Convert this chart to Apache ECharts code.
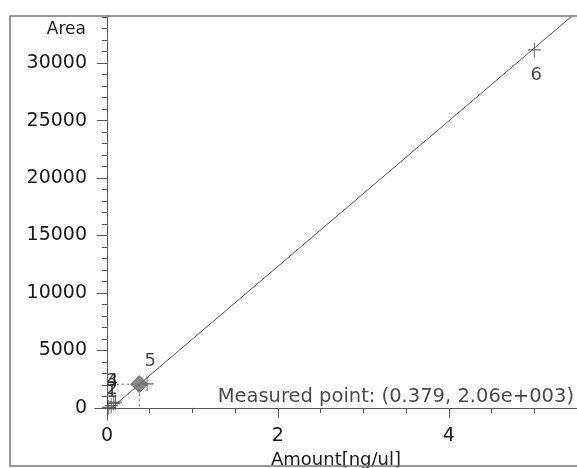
<!DOCTYPE html>
<html>
<head>
<meta charset="utf-8">
<script src="https://cdn.jsdelivr.net/npm/echarts@6/dist/echarts.min.js"></script>
<style>
html,body{margin:0;padding:0;background:#fff;}
#chart{width:577px;height:468px;}
</style>
</head>
<body>
<div id="chart"></div>
<script>
// ---- data ----
const amounts = [0.02, 0.05, 0.08, 0.1, 0.47, 5.0];
const areas = [50, 200, 400, 500, 2100, 31150];
const pointNames = ['1', '2', '3', '4', '5', '6'];
const measuredPoint = [0.379, 2060];
const fitLineX = [0.03, 5.5];
const fitLineY = [-150, 34470];
const xMajorTicks = [0, 2, 4];
const xMinorTicks = [0.5, 1, 1.5, 2.5, 3, 3.5, 4.5, 5, 5.5];
const yMajorTicks = [0, 5000, 10000, 15000, 20000, 25000, 30000];
const yMinorTicks = [1000,2000,3000,4000,6000,7000,8000,9000,11000,12000,13000,14000,16000,17000,18000,19000,21000,22000,23000,24000,26000,27000,28000,29000,31000,32000,33000,34000];
const measuredText = 'Measured point: (0.379, 2.06e+003)';

// ---- chart ----
const FONT = 'DejaVu Sans';
const TXT = '#1a1a1a';
const AX = '#5a5a5a';
const labelOffsets = [[3,-15],[1,-16],[-2,-22],[-3,-21],[3,-22],[2,25]];

const X_MIN = -0.14, X_MAX = 5.5, Y_MIN = -1050, Y_MAX = 34100;

const chart = echarts.init(document.getElementById('chart'), null, {renderer: 'canvas'});
const baseX = {type: 'value', min: X_MIN, max: X_MAX, position: 'bottom', splitLine: {show: false},
  axisLine: {onZero: true, lineStyle: {color: AX, width: 1}}};
const baseY = {type: 'value', min: Y_MIN, max: Y_MAX, position: 'left', splitLine: {show: false},
  axisLine: {onZero: true, lineStyle: {color: AX, width: 1}}};

const option = {
  animation: false,
  backgroundColor: '#fff',
  grid: {left: 95, right: 0, top: 16, bottom: 48, containLabel: false, outerBoundsMode: 'none'},
  xAxis: [
    Object.assign({}, baseX, {
      axisTick: {show: true, length: 10, customValues: xMajorTicks, lineStyle: {color: AX}},
      axisLabel: {show: true, customValues: xMajorTicks, margin: 7, color: TXT, fontSize: 19, fontFamily: FONT},
      name: 'Amount[ng/ul]', nameLocation: 'middle', nameGap: 28,
      nameTextStyle: {color: TXT, fontSize: 18, fontFamily: FONT}
    }),
    Object.assign({}, baseX, {
      axisTick: {show: true, length: 5, customValues: xMinorTicks, lineStyle: {color: AX}},
      axisLabel: {show: false}
    })
  ],
  yAxis: [
    Object.assign({}, baseY, {
      axisTick: {show: true, length: 10, customValues: yMajorTicks, lineStyle: {color: AX}},
      axisLabel: {show: true, customValues: yMajorTicks, margin: 8, color: TXT, fontSize: 19, fontFamily: FONT,
        formatter: v => String(v)},
      name: 'Area', nameLocation: 'end', nameGap: -14,
      nameTextStyle: {color: TXT, fontSize: 17, fontFamily: FONT, align: 'right', verticalAlign: 'middle', padding: [0, 21, 0, 0]}
    }),
    Object.assign({}, baseY, {
      axisTick: {show: true, length: 5, customValues: yMinorTicks, lineStyle: {color: AX}},
      axisLabel: {show: false}
    })
  ],
  graphic: [
    {type: 'rect', shape: {x: 10, y: 16, width: 600, height: 450}, style: {fill: 'none', stroke: '#777', lineWidth: 1.5}, z: 100, silent: true}
  ],
  series: [
    {
      type: 'line', name: 'fit', xAxisIndex: 0, yAxisIndex: 0,
      data: fitLineX.map((x, i) => [x, fitLineY[i]]),
      showSymbol: false, symbol: 'none', clip: true,
      lineStyle: {color: '#555', width: 1}, z: 2
    },
    {
      type: 'line', name: 'guideH', data: [[0, measuredPoint[1]], [measuredPoint[0], measuredPoint[1]]],
      symbol: 'none', lineStyle: {color: '#777', width: 1.2, type: [2, 3]}, z: 3
    },
    {
      type: 'line', name: 'guideV', data: [[measuredPoint[0], measuredPoint[1]], [measuredPoint[0], 0]],
      symbol: 'none', lineStyle: {color: '#777', width: 1.2, type: [2, 3]}, z: 3
    },
    {
      type: 'scatter', name: 'standards',
      symbol: 'path://M0,7 L14,7 M7,0 L7,14', symbolSize: [13, 15],
      itemStyle: {color: 'rgba(0,0,0,0)', borderColor: '#444', borderWidth: 1.1},
      data: amounts.map((x, i) => ({
        value: [x, areas[i]],
        label: {show: true, formatter: pointNames[i], position: 'inside', offset: labelOffsets[i],
          color: TXT, fontSize: 18, fontFamily: FONT}
      })),
      z: 5
    },
    {
      type: 'scatter', name: 'measured', symbol: 'diamond', symbolSize: [17, 17],
      itemStyle: {color: '#6a6a6a', borderColor: '#555', borderWidth: 1},
      data: [measuredPoint], z: 6
    },
    {
      type: 'scatter', name: 'measuredText', symbolSize: 0,
      data: [[X_MAX, 0]],
      label: {show: true, formatter: measuredText, position: 'inside', align: 'right', verticalAlign: 'bottom',
        offset: [-3, -1], color: TXT, fontSize: 19.5, fontFamily: FONT}, z: 7
    }
  ]
};
chart.setOption(option);
</script>
</body>
</html>
